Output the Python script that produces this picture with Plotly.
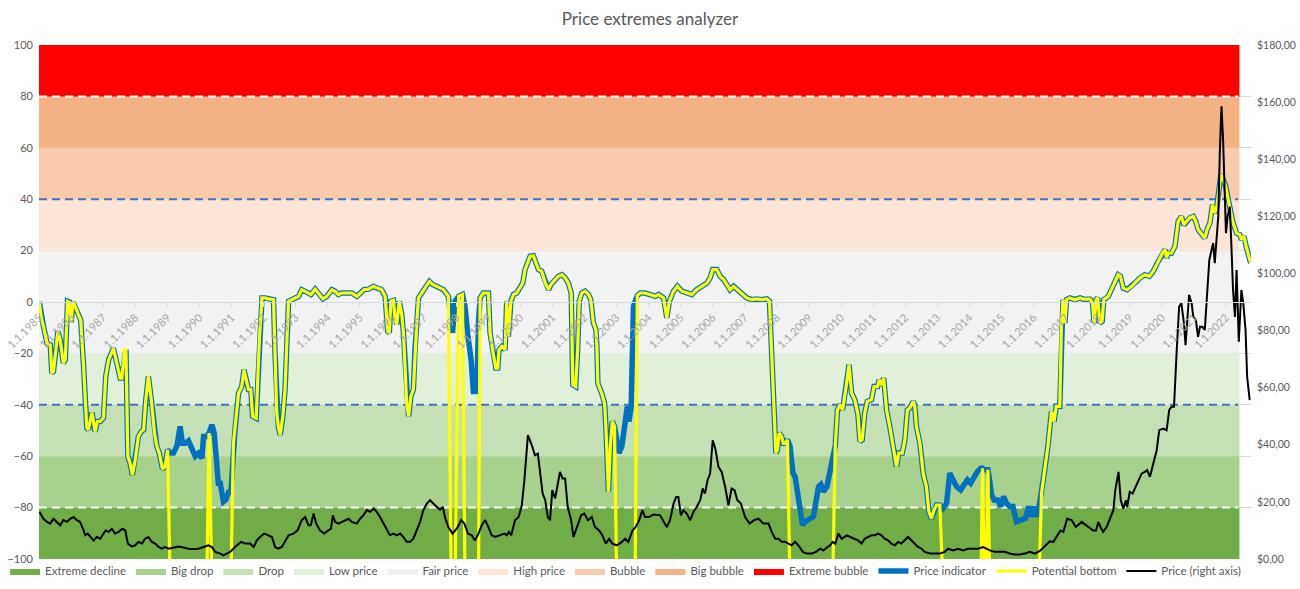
import plotly.graph_objects as go

# background zones of the indicator (left axis)
band_names = ["Extreme decline", "Big drop", "Drop", "Low price", "Fair price",
              "High price", "Bubble", "Big bubble", "Extreme bubble"]
band_colors = ["#70AD47", "#A9D18E", "#C5E0B4", "#E2F0D9", "#F2F2F2",
               "#FBE5D6", "#F8CBAD", "#F4B183", "#FF0000"]
band_low = [-100, -80, -60, -40, -20, 20, 40, 60, 80]
band_high = [-80, -60, -40, -20, 20, 40, 60, 80, 100]
band_start, band_end = 1985.0, 2022.42

# guide lines
guide_levels = [80, -80, 40, -40]
guide_colors = ["#FFFFFF", "#FFFFFF", "#4472C4", "#4472C4"]
guide_end = 2022.38

# price indicator (decimal year, value)
indicator = [
    (1985.01, 0), (1985.07, -6), (1985.14, -9.5), (1985.25, -16), (1985.35, -16.6),
    (1985.40, -27.7), (1985.45, -27), (1985.53, -18.6), (1985.59, -11.4), (1985.66, -14.7),
    (1985.76, -23.8), (1985.82, -22.5), (1985.89, 0.3), (1985.95, 0), (1986.00, -8),
    (1986.06, 0), (1986.13, -1.7), (1986.23, -5), (1986.30, -7), (1986.39, -25),
    (1986.49, -49), (1986.54, -49.7), (1986.65, -43), (1986.75, -50.4), (1986.82, -46.5),
    (1986.91, -46.5), (1987.01, -45), (1987.08, -29), (1987.17, -22.5), (1987.32, -18),
    (1987.43, -24.4), (1987.53, -29.6), (1987.58, -29.6), (1987.67, -18.6), (1987.71, -18.6),
    (1987.77, -60), (1987.84, -62.7), (1987.91, -67.3), (1988.00, -61.4), (1988.10, -52.3),
    (1988.19, -50.4), (1988.26, -49.7), (1988.33, -38), (1988.41, -29), (1988.50, -38),
    (1988.60, -51), (1988.67, -56), (1988.75, -58.8), (1988.85, -65), (1988.93, -64),
    (1989.01, -57.5), (1989.09, -58.8), (1989.19, -58.8), (1989.30, -56), (1989.40, -48.4),
    (1989.47, -55), (1989.56, -55), (1989.66, -54), (1989.77, -57), (1989.87, -60),
    (1989.97, -58.8), (1990.08, -60.8), (1990.13, -52.3), (1990.23, -52.3), (1990.30, -51),
    (1990.39, -47.8), (1990.46, -51), (1990.54, -61.4), (1990.59, -70.5), (1990.65, -70.5),
    (1990.70, -74.4), (1990.75, -77.7), (1990.82, -77), (1990.91, -74), (1990.98, -74),
    (1991.06, -55), (1991.11, -49.7), (1991.22, -35.5), (1991.32, -32.9), (1991.39, -26.4),
    (1991.46, -30.3), (1991.53, -34), (1991.60, -34), (1991.66, -44.5), (1991.77, -45.2),
    (1991.81, -32.9), (1991.87, -14.7), (1991.95, 1.6), (1992.05, 1.6), (1992.15, 1.2),
    (1992.31, 0.9), (1992.36, -21), (1992.41, -43), (1992.46, -48.4), (1992.52, -51.7),
    (1992.60, -44.5), (1992.67, -34), (1992.72, -17.3), (1992.78, 0.3), (1992.88, 0.9),
    (1992.98, 1.6), (1993.09, 2.2), (1993.19, 4.8), (1993.30, 4.2), (1993.40, 3.5),
    (1993.48, 2.9), (1993.61, 5), (1993.71, 3.5), (1993.85, 1.2), (1993.97, 2.2),
    (1994.13, 4.8), (1994.23, 4.2), (1994.33, 2.9), (1994.44, 3.5), (1994.59, 3.5),
    (1994.75, 3.5), (1994.91, 2.2), (1995.01, 3.5), (1995.13, 4.8), (1995.27, 5),
    (1995.43, 6.1), (1995.53, 5.5), (1995.68, 4.8), (1995.79, 2.2), (1995.87, -11.4),
    (1995.92, -12), (1995.97, 0.3), (1996.05, 0.6), (1996.10, -7), (1996.15, -8.8),
    (1996.23, 0.3), (1996.31, -5), (1996.36, -12), (1996.41, -25), (1996.46, -39.4),
    (1996.52, -44.5), (1996.59, -36.8), (1996.67, -34), (1996.72, -18.6), (1996.78, -7),
    (1996.83, 1.6), (1996.93, 3.5), (1997.04, 5.5), (1997.17, 8), (1997.27, 6.8),
    (1997.40, 6.1), (1997.50, 5.5), (1997.61, 4.8), (1997.76, 2.2), (1997.85, -5.6),
    (1997.89, -12), (1997.97, 0.3), (1998.08, 2.2), (1998.20, 2.9), (1998.28, -1.7),
    (1998.37, -13.4), (1998.47, -22.5), (1998.54, -34.8), (1998.65, -34.8), (1998.70, -8),
    (1998.75, 1.6), (1998.85, 3.5), (1999.01, 3.5), (1999.06, -12), (1999.17, -21),
    (1999.24, -25.7), (1999.30, -25.7), (1999.34, -18.6), (1999.43, -17.3), (1999.53, -18.6),
    (1999.58, 0.3), (1999.63, -13.4), (1999.71, 0.3), (1999.79, 2.9), (1999.89, 3.5),
    (2000.00, 6.1), (2000.08, 7.4), (2000.15, 12.6), (2000.31, 17.8), (2000.41, 18),
    (2000.49, 15.2), (2000.57, 12.6), (2000.67, 12), (2000.78, 7.4), (2000.88, 4.8),
    (2000.96, 6.8), (2001.09, 8.7), (2001.19, 10), (2001.30, 10.6), (2001.40, 9.4),
    (2001.50, 7.4), (2001.59, 3.5), (2001.64, -32.2), (2001.73, -32.9), (2001.79, -18.6),
    (2001.84, 0.3), (2001.92, 3.5), (2002.02, 4.2), (2002.13, 2.9), (2002.20, 0.9),
    (2002.28, -8), (2002.36, -10.8), (2002.39, -17.3), (2002.42, -31.6), (2002.54, -35.5),
    (2002.63, -39.4), (2002.67, -48.4), (2002.72, -66.6), (2002.75, -73.8), (2002.81, -56),
    (2002.87, -46.5), (2002.94, -48.4), (2003.01, -55), (2003.08, -58.8), (2003.17, -56),
    (2003.27, -47.8), (2003.34, -40.6), (2003.39, -46.5), (2003.46, -40.6), (2003.53, -1.7),
    (2003.58, 0.9), (2003.65, 2.5), (2003.74, 3.5), (2003.89, 3.5), (2004.05, 2.9),
    (2004.21, 2.2), (2004.31, 2.9), (2004.47, 1.6), (2004.57, -6.2), (2004.65, 0.3),
    (2004.78, 4.2), (2004.90, 6.1), (2005.04, 4.2), (2005.19, 3.5), (2005.35, 2.9),
    (2005.50, 4.8), (2005.66, 6.1), (2005.82, 7.4), (2005.92, 9.4), (2006.00, 12.6),
    (2006.13, 12.6), (2006.23, 10), (2006.34, 8.7), (2006.46, 6.1), (2006.54, 4.8),
    (2006.65, 6.1), (2006.77, 4.8), (2006.91, 3.5), (2007.06, 1.6), (2007.22, 0.9),
    (2007.37, 1.2), (2007.53, 0.9), (2007.69, 1.2), (2007.77, 0.3), (2007.81, -12),
    (2007.86, -30.3), (2007.91, -44.5), (2007.97, -58.8), (2008.02, -57.5), (2008.07, -51),
    (2008.15, -52.3), (2008.20, -55), (2008.26, -55), (2008.33, -53.6), (2008.41, -56),
    (2008.50, -66.6), (2008.57, -68), (2008.64, -74.4), (2008.72, -79.6), (2008.80, -86.8),
    (2008.88, -85.5), (2008.98, -84.8), (2009.14, -83.5), (2009.21, -78.3), (2009.30, -71.8),
    (2009.37, -71), (2009.45, -73.8), (2009.56, -71.8), (2009.66, -65.3), (2009.74, -62),
    (2009.82, -56), (2009.89, -42), (2009.97, -40), (2010.05, -42), (2010.16, -32.9),
    (2010.25, -24.4), (2010.33, -35.5), (2010.43, -38), (2010.53, -43.9), (2010.59, -54.3),
    (2010.66, -53.6), (2010.74, -43.2), (2010.82, -38.7), (2010.95, -38), (2011.03, -32.9),
    (2011.14, -32.9), (2011.19, -30.3), (2011.26, -32.2), (2011.33, -29.6), (2011.42, -42),
    (2011.52, -48.4), (2011.62, -55.6), (2011.73, -64), (2011.80, -58.8), (2011.91, -58.8),
    (2011.99, -53.6), (2012.07, -42), (2012.14, -41.3), (2012.25, -38.7), (2012.30, -40.6),
    (2012.35, -48.4), (2012.46, -55), (2012.56, -66.6), (2012.66, -71.8), (2012.74, -81.6),
    (2012.82, -84.2), (2012.90, -80.9), (2012.98, -79), (2013.08, -79), (2013.18, -80.3),
    (2013.29, -78.3), (2013.39, -66.6), (2013.49, -69.2), (2013.60, -71.8), (2013.73, -73.1),
    (2013.84, -70.5), (2013.94, -69.2), (2014.04, -70.5), (2014.15, -67.9), (2014.25, -66),
    (2014.36, -64.7), (2014.41, -64.7), (2014.47, -65.3), (2014.52, -65.3), (2014.58, -65.3),
    (2014.64, -70), (2014.69, -75), (2014.77, -77), (2014.88, -77), (2014.98, -79.6),
    (2015.07, -75.7), (2015.16, -78.3), (2015.26, -79.6), (2015.36, -79.6), (2015.47, -85.5),
    (2015.62, -84.8), (2015.75, -84.2), (2015.85, -79.6), (2015.94, -83.5), (2016.02, -79.6),
    (2016.09, -83.5), (2016.17, -80), (2016.25, -74.4), (2016.35, -65.3), (2016.45, -56),
    (2016.56, -42.6), (2016.64, -46.5), (2016.71, -40.6), (2016.82, -40.6), (2016.87, -9.5),
    (2016.92, 0.9), (2016.98, -8.2), (2017.03, 0.9), (2017.13, 1.6), (2017.29, 0.9),
    (2017.45, 1.6), (2017.55, 1.1), (2017.76, 1.1), (2017.84, -0.4), (2017.89, -8.2),
    (2017.95, 0.9), (2018.00, 1.6), (2018.07, -8.2), (2018.14, -7.5), (2018.19, 0.9),
    (2018.33, 2.2), (2018.43, 4.8), (2018.54, 7.4), (2018.64, 10.6), (2018.71, 10),
    (2018.80, 5.4), (2018.92, 4.8), (2019.06, 6.1), (2019.21, 8), (2019.32, 9.3),
    (2019.47, 10.6), (2019.61, 10), (2019.73, 11.9), (2019.86, 15.2), (2019.94, 17.1),
    (2020.02, 19), (2020.10, 20.4), (2020.15, 17.1), (2020.20, 19), (2020.30, 19),
    (2020.41, 21.7), (2020.51, 31.4), (2020.61, 33.3), (2020.69, 30), (2020.77, 31.4),
    (2020.87, 32.7), (2020.98, 33.3), (2021.06, 31.4), (2021.13, 28.2), (2021.21, 26.8),
    (2021.29, 25.6), (2021.34, 24.9), (2021.41, 28.2), (2021.50, 30.8), (2021.58, 37.9),
    (2021.65, 34.7), (2021.71, 36.6), (2021.78, 43.7), (2021.84, 49.6), (2021.91, 47.7),
    (2021.99, 45.1), (2022.07, 39.9), (2022.14, 35.3), (2022.22, 30.8), (2022.33, 26.8),
    (2022.43, 26.2), (2022.48, 24.3), (2022.56, 25.6), (2022.64, 21.1), (2022.69, 18.5),
    (2022.77, 15.2),
]

# periods flagged as potential bottom (yellow line drops out of view)
bottom_periods = [
    (1989.05, 1990.26), (1990.35, 1991.02), (1997.80, 1998.00), (1998.25, 1998.72),
    (2002.98, 2003.60), (2008.38, 2009.76), (2013.12, 2014.38), (2014.45, 2014.55),
    (2014.62, 2016.20),
]

# price in USD (right axis)
price = [
    (1985.01, 16.5), (1985.14, 14.1), (1985.25, 13), (1985.35, 12.4), (1985.45, 14.1),
    (1985.56, 13), (1985.66, 11.8), (1985.76, 13.6), (1985.87, 13), (1985.97, 14.1),
    (1986.08, 14.7), (1986.18, 13.6), (1986.28, 13), (1986.39, 10), (1986.44, 8.3),
    (1986.52, 8.9), (1986.60, 7.7), (1986.70, 6.5), (1986.80, 7.7), (1986.91, 7.1),
    (1987.01, 8.9), (1987.08, 10), (1987.17, 9.5), (1987.27, 10.6), (1987.37, 8.9),
    (1987.48, 9.5), (1987.60, 10.6), (1987.69, 10), (1987.77, 5.4), (1987.89, 4.4),
    (1988.00, 4.8), (1988.10, 6), (1988.21, 5.4), (1988.31, 7.1), (1988.41, 7.7),
    (1988.52, 6), (1988.62, 5.4), (1988.73, 4.2), (1988.83, 3.6), (1988.93, 4.2),
    (1989.04, 3.6), (1989.19, 4), (1989.35, 4.4), (1989.50, 4), (1989.66, 3.6),
    (1989.82, 3.5), (1989.97, 3.6), (1990.13, 4.2), (1990.28, 4.8), (1990.39, 4.2),
    (1990.49, 2.5), (1990.65, 1.9), (1990.75, 1.3), (1990.85, 1.9), (1990.96, 2.5),
    (1991.11, 4.2), (1991.22, 5.4), (1991.30, 6), (1991.43, 5.4), (1991.58, 5.4),
    (1991.69, 4.2), (1991.79, 6.5), (1991.89, 7.7), (1992.02, 8.9), (1992.15, 8.3),
    (1992.26, 7.7), (1992.36, 4.2), (1992.46, 3.6), (1992.57, 4.2), (1992.67, 6),
    (1992.78, 8.3), (1992.93, 8.9), (1993.06, 10), (1993.19, 13.6), (1993.30, 14.7),
    (1993.40, 11.8), (1993.47, 11.8), (1993.56, 15.9), (1993.64, 12.4), (1993.76, 10),
    (1993.89, 8.9), (1994.02, 10), (1994.10, 10.6), (1994.16, 15.3), (1994.23, 13),
    (1994.33, 12.4), (1994.44, 13), (1994.54, 13.6), (1994.65, 14.1), (1994.75, 13),
    (1994.91, 12.4), (1995.01, 14.1), (1995.11, 15.3), (1995.22, 17.1), (1995.32, 16.5),
    (1995.43, 17.6), (1995.53, 16.5), (1995.63, 14.7), (1995.74, 12.4), (1995.84, 10),
    (1995.94, 8.3), (1996.05, 8.9), (1996.15, 8.3), (1996.26, 8.9), (1996.36, 7.7),
    (1996.46, 6), (1996.57, 6), (1996.67, 7.1), (1996.78, 10), (1996.88, 13),
    (1996.98, 17.1), (1997.09, 19.4), (1997.19, 20.6), (1997.29, 19.4), (1997.40, 18.2),
    (1997.50, 17.3), (1997.59, 18.2), (1997.66, 14.4), (1997.76, 11.2), (1997.89, 8.9),
    (1998.02, 10.6), (1998.16, 13.6), (1998.26, 12.4), (1998.37, 8.9), (1998.49, 8.3),
    (1998.59, 6.5), (1998.70, 8.9), (1998.80, 11.8), (1998.91, 13.6), (1999.01, 11.2),
    (1999.11, 8.3), (1999.22, 7.7), (1999.37, 8.3), (1999.51, 8.9), (1999.58, 8.3),
    (1999.65, 9.5), (1999.72, 8.3), (1999.84, 13.6), (1999.95, 14.7), (2000.05, 18.8),
    (2000.13, 27.6), (2000.24, 43.4), (2000.36, 39.9), (2000.46, 36.3), (2000.55, 36.9),
    (2000.62, 29.9), (2000.70, 22.9), (2000.78, 20.6), (2000.86, 14.7), (2000.93, 13.6),
    (2001.00, 24.1), (2001.09, 21.2), (2001.16, 25.2), (2001.24, 30.5), (2001.32, 28.2),
    (2001.40, 28.2), (2001.48, 18.2), (2001.59, 13.6), (2001.66, 7.7), (2001.76, 11.2),
    (2001.90, 15.3), (2002.00, 15.9), (2002.11, 13.6), (2002.23, 14.7), (2002.33, 11.2),
    (2002.46, 10), (2002.56, 8.3), (2002.67, 5.4), (2002.77, 7.1), (2002.87, 5.4),
    (2003.01, 4.8), (2003.17, 6), (2003.27, 7.1), (2003.37, 6), (2003.50, 10),
    (2003.60, 11.2), (2003.71, 13.6), (2003.81, 17.1), (2003.89, 14.7), (2004.02, 14.7),
    (2004.15, 15.6), (2004.36, 15.3), (2004.47, 13), (2004.57, 11.2), (2004.67, 13.6),
    (2004.78, 19.4), (2004.86, 21.7), (2004.93, 21.7), (2005.01, 15.3), (2005.09, 17.1),
    (2005.19, 15.9), (2005.30, 13.6), (2005.40, 16.5), (2005.50, 18.2), (2005.61, 20.6),
    (2005.69, 24.7), (2005.76, 22.9), (2005.84, 27.6), (2005.92, 29.9), (2006.00, 41.6),
    (2006.08, 38.7), (2006.18, 32.3), (2006.28, 30.5), (2006.39, 25.2), (2006.49, 18.8),
    (2006.59, 24.7), (2006.68, 24.1), (2006.77, 20.6), (2006.88, 19.4), (2007.01, 14.7),
    (2007.15, 12.4), (2007.29, 13.6), (2007.43, 14.1), (2007.58, 12.4), (2007.74, 12.4),
    (2007.84, 9.5), (2007.95, 7.1), (2008.05, 7.1), (2008.15, 6), (2008.26, 6),
    (2008.36, 5.4), (2008.46, 4.8), (2008.57, 6), (2008.67, 4.8), (2008.81, 2.5),
    (2008.93, 1.9), (2009.09, 1.9), (2009.22, 2.5), (2009.35, 3.6), (2009.45, 3),
    (2009.58, 4.2), (2009.66, 4.8), (2009.74, 6), (2009.82, 5.4), (2009.92, 8.9),
    (2010.02, 7.1), (2010.18, 8.3), (2010.28, 7.7), (2010.41, 7.1), (2010.53, 6.5),
    (2010.64, 5.4), (2010.74, 7.1), (2010.85, 7.7), (2010.95, 8.3), (2011.05, 8.3),
    (2011.16, 8.9), (2011.26, 8.3), (2011.36, 7.1), (2011.47, 6.5), (2011.57, 5.4),
    (2011.68, 4.8), (2011.78, 6), (2011.88, 5.4), (2011.99, 6.5), (2012.09, 7.7),
    (2012.20, 6.5), (2012.30, 5.4), (2012.40, 4.2), (2012.51, 3.6), (2012.61, 2.5),
    (2012.77, 1.9), (2013.08, 1.9), (2013.23, 2.5), (2013.34, 3.6), (2013.49, 3),
    (2013.65, 3.6), (2013.81, 3), (2013.96, 3.6), (2014.27, 3.6), (2014.43, 4.2),
    (2014.53, 3.6), (2014.64, 3), (2014.79, 2.5), (2015.10, 2.5), (2015.26, 1.9),
    (2015.42, 1.6), (2015.57, 1.6), (2015.73, 1.9), (2015.88, 2.5), (2016.04, 1.9),
    (2016.20, 2.8), (2016.35, 4.5), (2016.51, 6.2), (2016.62, 6), (2016.72, 7.7),
    (2016.84, 10), (2016.93, 9.5), (2017.05, 14.1), (2017.19, 13.6), (2017.32, 11.2),
    (2017.50, 13), (2017.65, 11.8), (2017.76, 10.6), (2017.86, 10), (2017.95, 10),
    (2018.02, 13), (2018.09, 11.2), (2018.17, 9.5), (2018.28, 11.2), (2018.38, 14.1),
    (2018.49, 17.1), (2018.55, 24.1), (2018.65, 30.5), (2018.72, 20.6), (2018.80, 17.6),
    (2018.88, 20.6), (2018.92, 18.2), (2019.00, 23.5), (2019.09, 22.9), (2019.18, 25.2),
    (2019.26, 27), (2019.37, 29.9), (2019.47, 30.5), (2019.54, 31.1), (2019.63, 28.8),
    (2019.73, 33.4), (2019.84, 38.1), (2019.92, 45.1), (2020.04, 45.7), (2020.15, 45.1),
    (2020.23, 52.1), (2020.30, 53.3), (2020.38, 53.3), (2020.46, 72), (2020.54, 88.4),
    (2020.61, 89.5), (2020.69, 82.5), (2020.74, 74.9), (2020.80, 84.8), (2020.85, 92.5),
    (2020.93, 89.5), (2020.98, 84.8), (2021.06, 83.7), (2021.13, 77.8), (2021.19, 81.3),
    (2021.26, 81.3), (2021.34, 80.2), (2021.39, 89.5), (2021.48, 104.7), (2021.55, 108.2),
    (2021.60, 110.6), (2021.65, 103.6), (2021.71, 113), (2021.76, 120), (2021.81, 143.3),
    (2021.86, 158.5), (2021.91, 146.8), (2021.97, 126.9), (2022.00, 114.1), (2022.05, 120),
    (2022.12, 123.4), (2022.17, 109.4), (2022.22, 94.2), (2022.28, 84.8), (2022.33, 101.2),
    (2022.40, 76.1), (2022.48, 94.2), (2022.54, 89.5), (2022.61, 80.2), (2022.66, 63.8),
    (2022.74, 55.6),
]

years = list(range(1985, 2023))
year_labels = [f"1.1.{y}" for y in years]
price_ticks = list(range(0, 181, 20))
price_labels = [f"${v},00" for v in price_ticks]

ind_x = [p[0] for p in indicator]
ind_y = [p[1] for p in indicator]
# potential bottom = indicator, pushed below the axis inside bottom periods
bot_y = [-110 if any(a <= x <= b for a, b in bottom_periods) else v
         for x, v in zip(ind_x, ind_y)]
price_x = [p[0] for p in price]
price_y = [p[1] for p in price]

fig = go.Figure()

for name, col, lo, hi in zip(band_names, band_colors, band_low, band_high):
    fig.add_trace(go.Scatter(
        x=[band_start, band_end, band_end, band_start, band_start],
        y=[lo, lo, hi, hi, lo], mode="lines", fill="toself", fillcolor=col,
        line=dict(width=0, color=col), name=name, hoverinfo="skip"))

for lvl, col in zip(guide_levels, guide_colors):
    fig.add_trace(go.Scatter(
        x=[band_start, guide_end], y=[lvl, lvl], mode="lines",
        line=dict(color=col, width=2, dash="8px,5px"),
        showlegend=False, hoverinfo="skip"))

fig.add_trace(go.Scatter(x=ind_x, y=ind_y, mode="lines", name="Price indicator",
                         line=dict(color="#0070C0", width=5.5)))
fig.add_trace(go.Scatter(x=ind_x, y=bot_y, mode="lines", name="Potential bottom",
                         line=dict(color="#FFFF00", width=3.2)))
fig.add_trace(go.Scatter(x=price_x, y=price_y, mode="lines", name="Price (right axis)",
                         line=dict(color="#000000", width=2), yaxis="y2"))

fig.update_layout(
    width=1300, height=589,
    margin=dict(l=39, r=49, t=45, b=30, autoexpand=False),
    paper_bgcolor="white", plot_bgcolor="white",
    font=dict(family="Lato, Carlito, Calibri, sans-serif", size=11.5, color="#595959"),
    title=dict(text="Price extremes analyzer", x=0.5, xanchor="center",
               y=0.968, yanchor="middle", font=dict(size=17, color="#595959")),
    xaxis=dict(range=[1985.0, 2022.78], tickvals=years, ticktext=year_labels,
               tickangle=-45, anchor="free", position=0.5, automargin=False,
               showline=True, linecolor="#D9D9D9", showgrid=False, zeroline=False,
               ticks="outside", ticklen=4, tickcolor="#D9D9D9",
               tickfont=dict(color="#A6A6A6", size=11)),
    yaxis=dict(range=[-100, 100], dtick=20, tick0=0, showgrid=True, automargin=False,
               gridcolor="#D9D9D9", zeroline=False, ticklabelstandoff=5,
               tickfont=dict(size=11)),
    yaxis2=dict(range=[0, 180], overlaying="y", side="right", tickvals=price_ticks,
                ticktext=price_labels, showgrid=False, zeroline=False,
                automargin=False, ticklabelstandoff=5, tickfont=dict(size=10.5)),
    legend=dict(orientation="h", x=-0.028, xanchor="left", y=-0.0233, yanchor="middle",
                font=dict(size=11.5), bgcolor="rgba(0,0,0,0)", traceorder="normal"),
    hovermode="closest",
)

fig.write_html("out.html", config={"displayModeBar": False},
               post_script="document.body.style.margin='0px';")
